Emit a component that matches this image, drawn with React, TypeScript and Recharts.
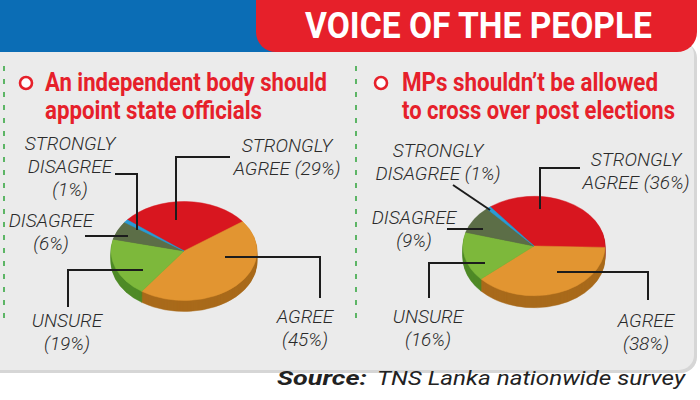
import React from "react";
import { PieChart, Pie, Cell } from "recharts";

// ---------- data ----------
const categories = ["STRONGLY AGREE", "AGREE", "UNSURE", "DISAGREE", "STRONGLY DISAGREE"];
const officialsValues = [29, 45, 19, 6, 1];
const crossoverValues = [36, 38, 16, 9, 1];

const titleText = "VOICE OF THE PEOPLE";
const question1 = ["An independent body should", "appoint state officials"];
const question2 = ["MPs shouldn\u2019t be allowed", "to cross over post elections"];
const sourceLabel = "Source:";
const sourceText = "TNS Lanka nationwide survey";

// ---------- styles ----------
const topColors = ["#d8161f", "#e29531", "#7db83b", "#5c6e47", "#2a9bd5"];
const sideColors = ["#9c1117", "#a96a1b", "#4f8a27", "#3e4d30", "#1d6e98"];
const RED = "#e6202a";
const BLUE = "#0b6db5";
const PANEL = "#ebebeb";
const FONT = "Roboto, 'Liberation Sans', Arial, sans-serif";
const LINE_H = 23;

type Geo = { cx: number; cy: number; r: number; squash: number; depth: number; start: number; cls: string };
const geo1: Geo = { cx: 184, cy: 251, r: 73, squash: 0.678, depth: 11, start: 141, cls: "pie-a" };
const geo2: Geo = { cx: 534, cy: 246, r: 71, squash: 0.7, depth: 12, start: 128, cls: "pie-b" };

type LabelLayout = { x: number; y: number; pctOwnLine: boolean; line: number[][] };
const layout1: LabelLayout[] = [
  { x: 287, y: 152, pctOwnLine: false, line: [[230, 157], [176, 157], [176, 220]] },
  { x: 305, y: 323, pctOwnLine: true, line: [[225, 257], [320, 257], [320, 298]] },
  { x: 67, y: 327, pctOwnLine: true, line: [[143, 270], [68, 270], [68, 307]] },
  { x: 51, y: 227, pctOwnLine: true, line: [[85, 236], [128, 236]] },
  { x: 70, y: 150, pctOwnLine: true, line: [[115, 174], [137, 174], [137, 230]] },
];
const layout2: LabelLayout[] = [
  { x: 636, y: 166, pctOwnLine: false, line: [[580, 168], [540, 168], [540, 209]] },
  { x: 646, y: 327, pctOwnLine: true, line: [[557, 272], [648, 272], [648, 300]] },
  { x: 428, y: 323, pctOwnLine: true, line: [[485, 263], [429, 263], [429, 298]] },
  { x: 414, y: 224, pctOwnLine: true, line: [[447, 229], [483, 229]] },
  { x: 438, y: 157, pctOwnLine: false, line: [[453, 185], [490, 210]] },
];

function labelLines(name: string, value: number, pctOwnLine: boolean): string[] {
  const words = name.split(" ");
  const pct = `(${value}%)`;
  if (pctOwnLine) return [...words, pct];
  const last = words.pop();
  return [...words, `${last} ${pct}`];
}

function makeLabel(values: number[], layout: LabelLayout[]) {
  return (props: any) => {
    const i = props.index as number;
    const l = layout[i];
    const lines = labelLines(categories[i], values[i], l.pctOwnLine);
    return (
      <g key={`lbl-${i}`}>
        <polyline
          points={l.line.map((p) => p.join(",")).join(" ")}
          fill="none"
          stroke="#1c1c1c"
          strokeWidth={2}
        />
        <text
          x={l.x}
          y={l.y}
          textAnchor="middle"
          fontFamily={FONT}
          fontStyle="italic"
          fontWeight={300}
          fontSize={19}
          fill="#2a2a2a"
        >
          {lines.map((t, j) => (
            <tspan key={j} x={l.x} dy={j === 0 ? 0 : LINE_H}>
              {t}
            </tspan>
          ))}
        </text>
      </g>
    );
  };
}

function pieLayers(values: number[], geo: Geo, layout: LabelLayout[]) {
  const data = categories.map((name, i) => ({ name, value: values[i] }));
  const layers: React.ReactElement[] = [];
  for (let k = geo.depth; k >= 1; k--) {
    layers.push(
      <Pie
        key={`${geo.cls}-d${k}`}
        className={geo.cls}
        data={data}
        dataKey="value"
        cx={geo.cx}
        cy={geo.cy + k / geo.squash}
        outerRadius={geo.r}
        startAngle={geo.start}
        endAngle={geo.start - 360}
        stroke="none"
        isAnimationActive={false}
      >
        {data.map((_, i) => (
          <Cell key={i} fill={sideColors[i]} stroke={sideColors[i]} strokeWidth={0.6} />
        ))}
      </Pie>
    );
  }
  layers.push(
    <Pie
      key={`${geo.cls}-top`}
      className={geo.cls}
      data={data}
      dataKey="value"
      cx={geo.cx}
      cy={geo.cy}
      outerRadius={geo.r}
      startAngle={geo.start}
      endAngle={geo.start - 360}
      isAnimationActive={false}
    >
      {data.map((_, i) => (
        <Cell key={i} fill={topColors[i]} stroke={topColors[i]} strokeWidth={0.6} />
      ))}
    </Pie>
  );
  layers.push(
    <Pie
      key={`${geo.cls}-labels`}
      data={data}
      dataKey="value"
      cx={geo.cx}
      cy={geo.cy}
      outerRadius={1}
      startAngle={geo.start}
      endAngle={geo.start - 360}
      fill="transparent"
      stroke="none"
      label={makeLabel(values, layout)}
      labelLine={false}
      isAnimationActive={false}
    />
  );
  return layers;
}

const css = [geo1, geo2]
  .map(
    (g) =>
      `g.recharts-pie.${g.cls}{transform-origin:${g.cx}px ${g.cy}px;transform:scale(1,${g.squash});}`
  )
  .join("\n");

export default function App() {
  return (
    <div style={{ position: "absolute", left: 0, top: 0, width: 700, height: 400, background: "#fff" }}>
      <style>{css}</style>
      <svg width={700} height={400} style={{ position: "absolute", left: 0, top: 0 }}>
        <rect x={0} y={0} width={700} height={400} fill="#ffffff" />
        <rect x={-30} y={42} width={727} height={331} rx={16} fill="#d6d6d6" />
        <rect x={-30} y={40} width={724} height={330} rx={15} fill={PANEL} />
        <rect x={0} y={0} width={600} height={52} fill={BLUE} />
        <rect x={256} y={-40} width={441} height={92} rx={20} fill={RED} />
        <text
          x={305}
          y={38}
          fontFamily={FONT}
          fontWeight={700}
          fontSize={36}
          fill="#ffffff"
          textLength={347}
          lengthAdjust="spacingAndGlyphs"
        >
          {titleText}
        </text>
        <line x1={4} y1={66} x2={4} y2={326} stroke="#3aa845" strokeWidth={1.6} strokeDasharray="5 8" />
        <line x1={356} y1={66} x2={356} y2={326} stroke="#3aa845" strokeWidth={1.6} strokeDasharray="5 8" />
        <circle cx={26} cy={83} r={6} fill="#fff" stroke={RED} strokeWidth={2.6} />
        <circle cx={381} cy={83} r={6} fill="#fff" stroke={RED} strokeWidth={2.6} />
        <g fontFamily={FONT} fontWeight={700} fontSize={26} fill={RED}>
          <text x={45} y={91} textLength={282} lengthAdjust="spacingAndGlyphs">{question1[0]}</text>
          <text x={45} y={119} textLength={217} lengthAdjust="spacingAndGlyphs">{question1[1]}</text>
          <text x={402} y={91} textLength={256} lengthAdjust="spacingAndGlyphs">{question2[0]}</text>
          <text x={402} y={119} textLength={273} lengthAdjust="spacingAndGlyphs">{question2[1]}</text>
        </g>
        <g fontFamily={FONT} fontStyle="italic" fontSize={20} fill="#222">
          <text x={277} y={385} fontWeight={700} textLength={90} lengthAdjust="spacingAndGlyphs">{sourceLabel}</text>
          <text x={377} y={385} textLength={308} lengthAdjust="spacingAndGlyphs">{sourceText}</text>
        </g>
      </svg>
      <div style={{ position: "absolute", left: 0, top: 0 }}>
        <PieChart width={700} height={400} margin={{ top: 0, right: 0, bottom: 0, left: 0 }}>
          {pieLayers(officialsValues, geo1, layout1)}
          {pieLayers(crossoverValues, geo2, layout2)}
        </PieChart>
      </div>
    </div>
  );
}
